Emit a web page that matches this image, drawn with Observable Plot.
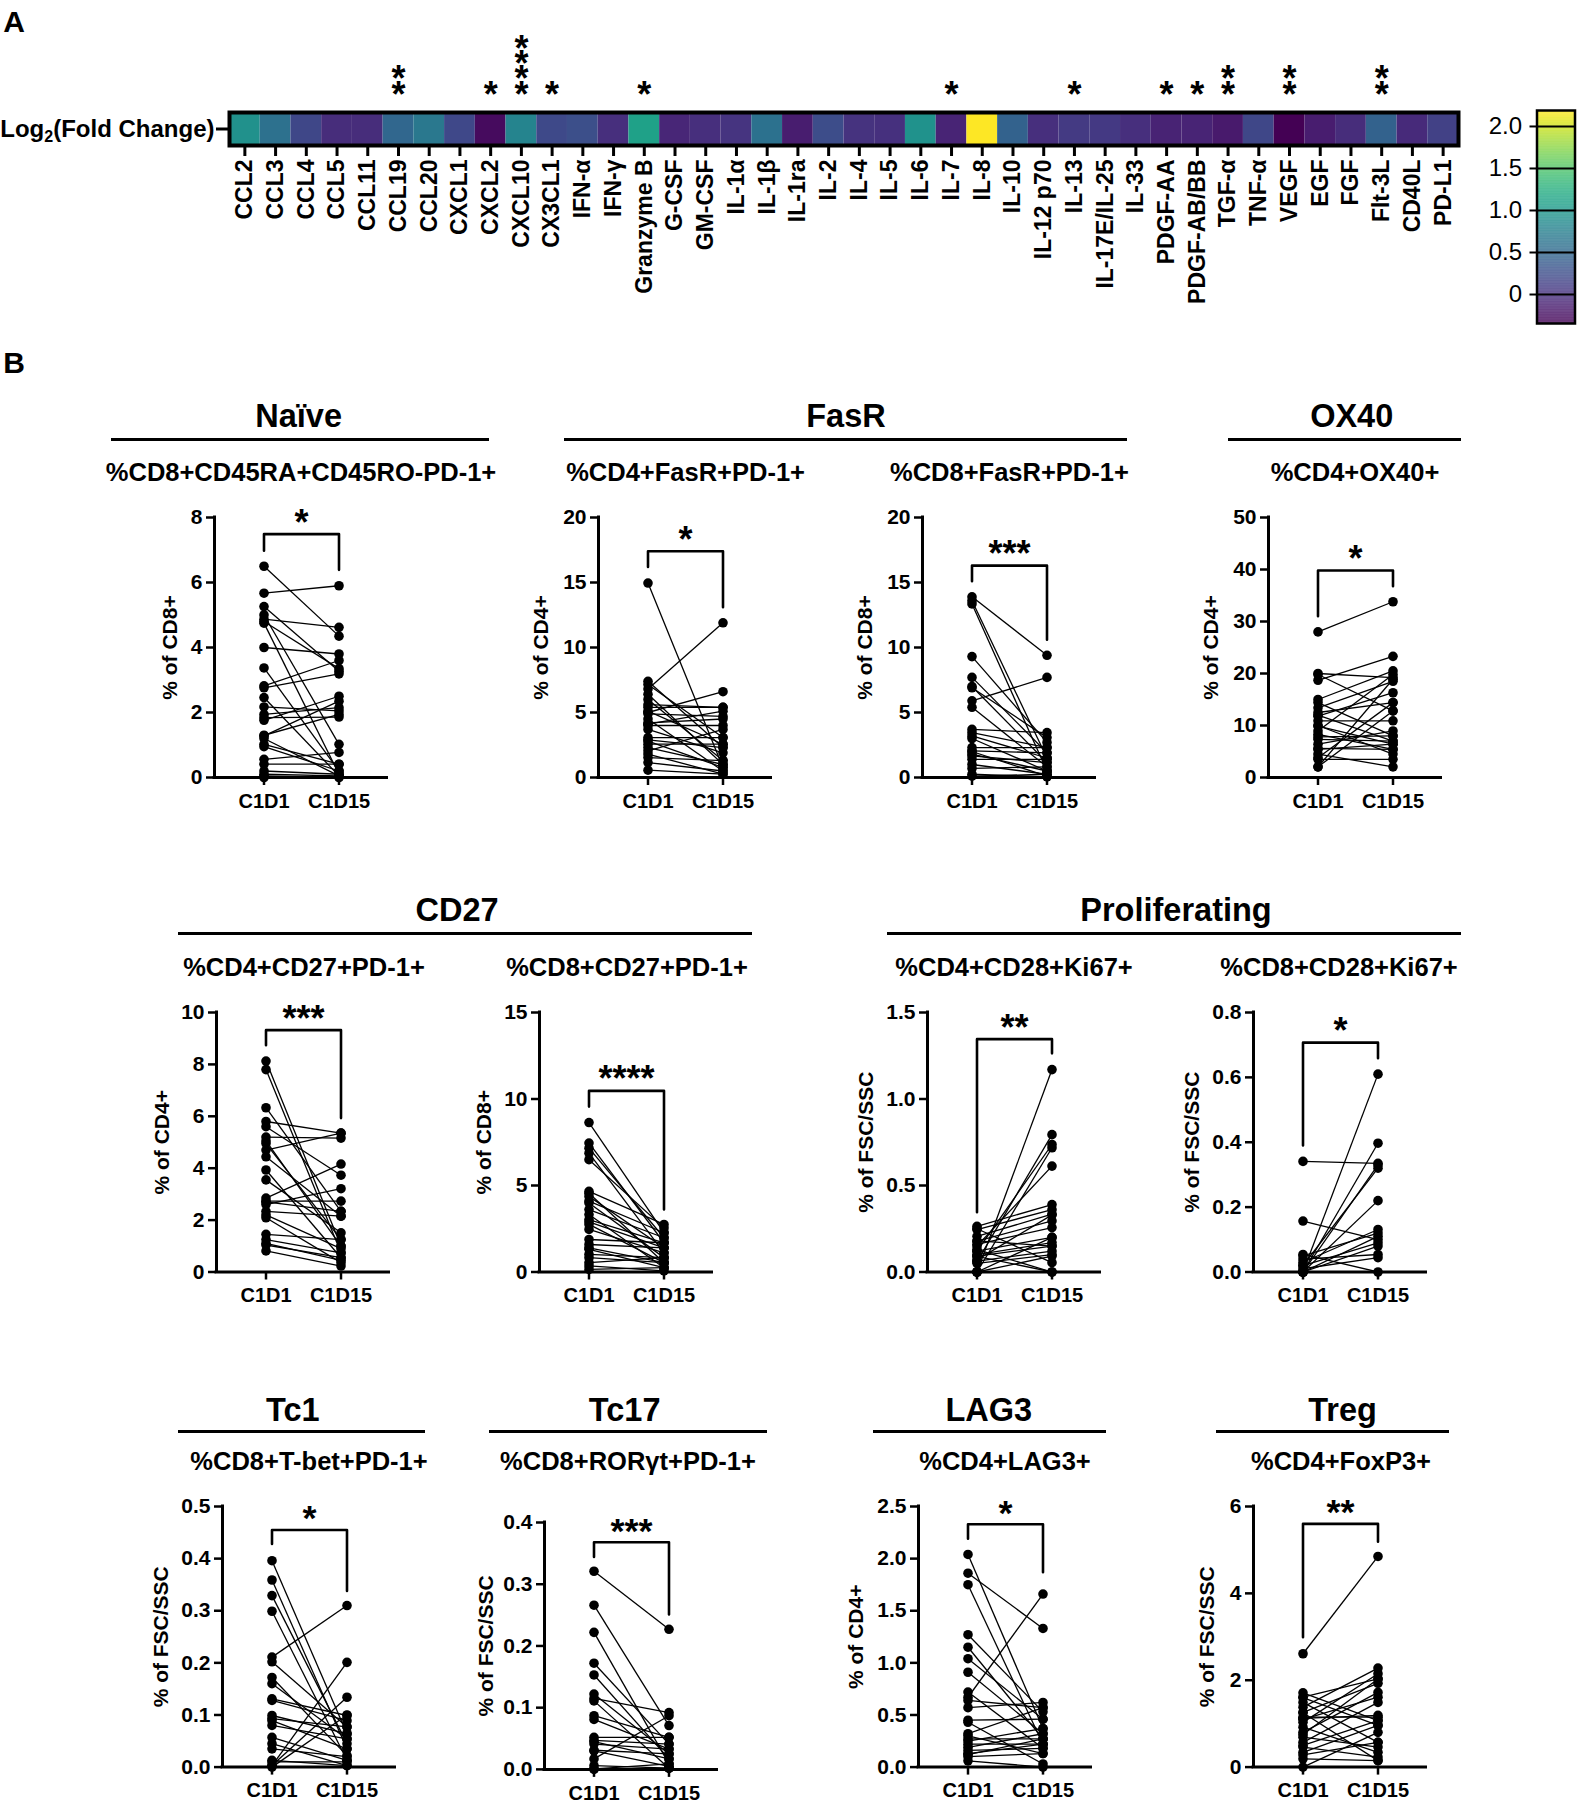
<!DOCTYPE html>
<html><head><meta charset="utf-8">
<script src="https://cdn.jsdelivr.net/npm/d3@7"></script>
<script src="https://cdn.jsdelivr.net/npm/@observablehq/plot@0.6"></script>
<style>
body{margin:0;background:#fff;}
#root{position:relative;width:1579px;height:1800px;overflow:hidden;font-family:"Liberation Sans",Arial,sans-serif;font-weight:bold;color:#000;}
.ctr{position:absolute;transform:translate(-50%,-50%);white-space:nowrap;line-height:1;font-weight:bold;}
.rule{position:absolute;height:3px;background:#000;}
</style></head><body><div id="root"></div>
<script>
// ---------- Panel A data ----------
const cytokines = ["CCL2","CCL3","CCL4","CCL5","CCL11","CCL19","CCL20","CXCL1","CXCL2","CXCL10","CX3CL1","IFN-α","IFN-γ","Granzyme B","G-CSF","GM-CSF","IL-1α","IL-1β","IL-1ra","IL-2","IL-4","IL-5","IL-6","IL-7","IL-8","IL-10","IL-12 p70","IL-13","IL-17E/IL-25","IL-33","PDGF-AA","PDGF-AB/BB","TGF-α","TNF-α","VEGF","EGF","FGF","Flt-3L","CD40L","PD-L1"];
const log2FC = [0.93,0.59,0.19,-0.02,-0.02,0.49,0.67,0.2,-0.27,0.8,0.21,0.26,0.0,1.1,-0.07,0.0,0.035,0.6,-0.14,0.24,0.03,0.01,0.94,-0.09,2.19,0.44,0.0,0.085,0.08,0.0,-0.1,-0.09,-0.17,0.19,-0.34,-0.14,-0.02,0.44,-0.04,0.15];
const cytokineStars = ["","","","","","**","","","*","****","*","","","*","","","","","","","","","","*","","","","*","","","*","*","**","","**","","","**","",""];
const colorDomain = [-0.345, 2.19];
const colorTicks = [0, 0.5, 1.0, 1.5, 2.0];
const rowLabel = "Log2(Fold Change)";

// ---------- Panel B data ----------
const timepoints = ["C1D1", "C1D15"];
const naivePairs = [[6.5,4.35],[5.67,5.9],[5.26,3.27],[5.0,1.02],[4.87,4.62],[4.8,3.35],[4.75,0.1],[4.0,3.8],[3.37,0.2],[2.82,3.6],[2.76,3.19],[2.46,0.05],[2.17,2.05],[1.94,2.15],[1.84,1.86],[1.76,2.5],[1.28,2.35],[1.2,0.05],[1.3,1.94],[1.02,0.41],[0.95,0.2],[0.56,0.77],[0.41,0.41],[0.2,0.1],[0.1,0.05],[0.05,0.0],[0.0,0.02]];
const fasrCD4Pairs = [[14.96,0.77],[7.4,2.3],[7.15,3.07],[6.8,11.9],[6.4,1.0],[6.0,1.3],[5.6,5.4],[5.4,5.4],[5.1,2.56],[5.0,6.6],[4.9,4.7],[4.5,0.5],[4.2,4.5],[4.1,5.1],[4.0,4.0],[3.7,1.9],[3.07,3.07],[2.9,2.3],[2.8,0.77],[2.56,2.56],[2.3,1.0],[2.05,3.7],[1.8,0.26],[1.53,1.3],[1.15,0.5],[0.56,0.26]];
const fasrCD8Pairs = [[13.9,9.4],[13.6,1.5],[13.35,0.5],[9.3,2.7],[7.7,1.9],[7.0,1.15],[6.9,3.07],[5.9,7.7],[5.4,0.82],[3.7,3.45],[3.45,2.3],[3.2,1.5],[3.0,0.5],[2.3,2.3],[2.05,1.9],[2.0,0.1],[1.8,0.5],[1.66,1.15],[1.4,1.4],[1.0,0.25],[0.7,0.82],[0.25,0.05],[0.1,0.25]];
const ox40Pairs = [[28.0,33.8],[20.0,19.2],[19.8,12.8],[18.7,23.3],[15.0,20.5],[14.4,8.0],[13.4,18.5],[12.5,14.4],[12.0,7.0],[11.8,16.3],[10.9,10.9],[10.0,4.5],[9.9,6.4],[8.95,19.8],[8.3,5.4],[7.8,8.0],[7.35,7.0],[6.4,8.95],[5.6,5.4],[5.4,6.4],[4.5,2.05],[3.8,14.4],[3.5,3.5],[2.05,12.8],[2.05,18.9]];
const cd27CD4Pairs = [[8.13,1.0],[7.8,0.74],[6.33,2.34],[5.8,5.35],[5.6,3.73],[5.2,5.16],[5.05,1.0],[4.95,1.25],[4.7,5.35],[4.44,2.15],[3.93,0.55],[3.55,1.51],[2.85,4.16],[2.73,2.73],[2.7,2.34],[2.6,3.21],[2.34,2.15],[2.2,0.9],[2.09,0.36],[1.45,1.25],[1.25,0.74],[1.1,0.45],[1.04,0.55],[0.81,0.23]];
const cd27CD8Pairs = [[8.64,2.27],[7.45,1.69],[7.16,1.98],[6.87,1.11],[6.49,2.55],[4.66,2.75],[4.55,0.54],[4.37,1.4],[4.1,2.27],[3.99,0.83],[3.61,1.98],[3.32,0.25],[3.03,1.69],[2.9,1.4],[2.75,0.54],[2.46,1.11],[1.88,1.69],[1.59,1.4],[1.4,0.54],[1.31,0.25],[1.02,0.83],[0.83,0.54],[0.54,0.83],[0.35,0.06],[0.15,0.25]];
const prolCD4Pairs = [[0.0,1.17],[0.06,0.794],[0.12,0.737],[0.0,0.718],[0.15,0.612],[0.264,0.39],[0.245,0.36],[0.206,0.334],[0.178,0.295],[0.16,0.257],[0.121,0.2],[0.092,0.15],[0.063,0.121],[0.09,0.0],[0.25,0.054],[0.0,0.092],[0.0,0.2],[0.13,0.0],[0.18,0.15],[0.07,0.33],[0.05,0.1],[0.1,0.17]];
const prolCD8Pairs = [[0.341,0.335],[0.157,0.1],[0.0,0.61],[0.0,0.397],[0.02,0.32],[0.0,0.22],[0.03,0.131],[0.05,0.12],[0.0,0.08],[0.04,0.054],[0.01,0.044],[0.054,0.0],[0.0,0.11],[0.0,0.33],[0.02,0.09]];
const tc1Pairs = [[0.396,0.064],[0.359,0.035],[0.329,0.045],[0.299,0.013],[0.211,0.31],[0.202,0.077],[0.172,0.022],[0.16,0.054],[0.131,0.099],[0.128,0.089],[0.099,0.064],[0.093,0.077],[0.089,0.035],[0.08,0.054],[0.057,0.013],[0.045,0.003],[0.035,0.02],[0.013,0.003],[0.003,0.201],[0.003,0.134],[0.0,0.1],[0.01,0.01]];
const tc17Pairs = [[0.321,0.227],[0.266,0.071],[0.222,0.009],[0.172,0.041],[0.153,0.017],[0.122,0.025],[0.115,0.092],[0.111,0.002],[0.087,0.052],[0.081,0.033],[0.052,0.052],[0.047,0.041],[0.045,0.017],[0.041,0.033],[0.031,0.025],[0.03,0.005],[0.017,0.087],[0.006,0.002],[0.001,0.009],[0.0,0.002]];
const lag3Pairs = [[2.04,0.37],[1.86,1.33],[1.75,0.22],[1.27,0.53],[1.15,0.27],[1.04,0.46],[0.91,0.32],[0.72,0.18],[0.67,1.66],[0.64,0.57],[0.57,0.62],[0.45,0.46],[0.43,0.03],[0.32,0.57],[0.3,0.13],[0.27,0.27],[0.25,0.37],[0.22,0.22],[0.19,0.32],[0.16,0.18],[0.13,0.22],[0.12,0.27],[0.1,0.13],[0.06,0.0]];
const tregPairs = [[2.61,4.85],[1.71,1.07],[1.61,2.03],[1.6,0.96],[1.49,0.57],[1.38,2.28],[1.26,1.93],[1.25,0.15],[1.15,1.15],[1.12,1.19],[1.1,1.61],[1.03,2.15],[0.92,0.34],[0.8,1.72],[0.75,2.03],[0.69,0.46],[0.57,1.49],[0.5,1.07],[0.46,0.23],[0.34,0.96],[0.28,0.57],[0.19,0.15],[0.0,0.8]];

const panelSubtitles = ["%CD8+CD45RA+CD45RO-PD-1+","%CD4+FasR+PD-1+","%CD8+FasR+PD-1+","%CD4+OX40+","%CD4+CD27+PD-1+","%CD8+CD27+PD-1+","%CD4+CD28+Ki67+","%CD8+CD28+Ki67+","%CD8+T-bet+PD-1+","%CD8+RORγt+PD-1+","%CD4+LAG3+","%CD4+FoxP3+"];
const panelYLabels = ["% of CD8+","% of CD4+","% of CD8+","% of CD4+","% of CD4+","% of CD8+","% of FSC/SSC","% of FSC/SSC","% of FSC/SSC","% of FSC/SSC","% of CD4+","% of FSC/SSC"];
const panelYMax = [8,20,20,50,10,15,1.5,0.8,0.5,0.4,2.5,6];
const panelYTicks = [[0,2,4,6,8],[0,5,10,15,20],[0,5,10,15,20],[0,10,20,30,40,50],[0,2,4,6,8,10],[0,5,10,15],[0,0.5,1.0,1.5],[0,0.2,0.4,0.6,0.8],[0,0.1,0.2,0.3,0.4,0.5],[0,0.1,0.2,0.3,0.4],[0,0.5,1.0,1.5,2.0,2.5],[0,2,4,6]];
const panelDecimal = [false,false,false,false,false,false,true,true,true,true,true,false];
const panelPairs = [naivePairs,fasrCD4Pairs,fasrCD8Pairs,ox40Pairs,cd27CD4Pairs,cd27CD8Pairs,prolCD4Pairs,prolCD8Pairs,tc1Pairs,tc17Pairs,lag3Pairs,tregPairs];
// bracket: [left leg end, top, right leg end]
const panelBrackets = [[6.98,7.49,6.39],[16.2,17.4,13.1],[15.1,16.3,10.6],[31.0,39.8,36.8],[8.74,9.32,5.93],[9.56,10.47,3.61],[0.346,1.346,1.264],[0.39,0.707,0.659],[0.428,0.455,0.338],[0.344,0.368,0.251],[2.19,2.33,1.87],[2.99,5.6,5.19]];
const panelStars = ["*","*","***","*","***","****","**","*","*","***","*","**"];

const groupTitles = ["Naïve","FasR","OX40","CD27","Proliferating","Tc1","Tc17","LAG3","Treg"];

// ---------- Layout (pixels) ----------
const groupTitlePos = [[298.6,415.7],[846,415.7],[1351.7,415.7],[457,909.5],[1176,909.5],[292.8,1410],[624.7,1410],[988.8,1410],[1342.5,1410]];
const groupLinePos = [[111,489,439],[564,1127,439],[1228,1461,439],[178,752,933],[887,1461,933],[178,425,1431],[489,767,1431],[873,1106,1431],[1216,1449,1431]];
const subtitlePos = [[301,473],[685.6,473],[1009.4,473],[1355,473],[304,968],[627,968],[1014,968],[1339,968],[309,1462],[628,1462],[1005,1462],[1341,1462]];
// [axisX, topTickY, zeroY, yLabelOffset]
const panelLayout = [[213.5,517,777,44],[598,517,777,57],[922,517,777,57],[1268,517,777,57],
  [216,1011.5,1271,54],[538.6,1011.5,1271,55],[926.8,1011.5,1271,61],[1253,1011.5,1271,61],
  [221.6,1505.6,1766.2,61],[544.3,1521.6,1768.5,58],[917.6,1505.6,1766.2,62],[1253,1505.6,1766.2,46]];

const root = document.getElementById("root");
const FONT = '"Liberation Sans", Arial, sans-serif';

function addDiv(cls, text, x, y, size) {
  const d = document.createElement("div");
  d.className = cls; d.textContent = text;
  d.style.left = x + "px"; d.style.top = y + "px"; d.style.fontSize = size + "px";
  root.appendChild(d); return d;
}
function place(node, left, top) {
  node.style.position = "absolute"; node.style.left = left + "px"; node.style.top = top + "px";
  root.appendChild(node);
}

addDiv("ctr", "A", 14, 22, 30);
addDiv("ctr", "B", 14, 363, 30);

// ---------- Heatmap ----------
const hmData = cytokines.map((name, i) => ({name, value: log2FC[i], stars: cytokineStars[i]}));
const heat = Plot.plot({
  width: 1470, height: 315,
  marginLeft: 229, marginRight: 12, marginTop: 112, marginBottom: 170,
  x: {domain: cytokines, padding: 0, round: false, label: null},
  y: {domain: [rowLabel], padding: 0, round: false, label: null},
  color: {type: "linear", scheme: "viridis", domain: colorDomain},
  style: {fontFamily: FONT, fontWeight: "bold", fontSize: "23px", background: "transparent", overflow: "visible"},
  marks: [
    Plot.cell(hmData, {x: "name", y: () => rowLabel, fill: "value", inset: 0}),
    Plot.frame({stroke: "black", strokeWidth: 4}),
    Plot.axisX({tickRotate: -90, tickSize: 11, tickPadding: 3, strokeWidth: 3, fontSize: 23}),
    Plot.axisY({tickSize: 13, tickPadding: 2, strokeWidth: 3, fontSize: 24}),
    Plot.text(hmData.filter(d => d.stars), {x: "name", text: d => d.stars.split("").join("\n"), frameAnchor: "top", lineAnchor: "bottom", lineHeight: 0.42, dy: -6, fontSize: 36})
  ]
});
d3.select(heat).selectAll("text").filter(function(){ return this.textContent === rowLabel; }).each(function(){
  const t = d3.select(this); t.text(null);
  t.append("tspan").text("Log");
  t.append("tspan").attr("dy", 5).attr("font-size", 16).text("2");
  t.append("tspan").attr("dy", -5).text("(Fold Change)");
});
place(heat, 0, 0);

// ---------- Colour bar ----------
const steps = d3.range(colorDomain[0], colorDomain[1], 0.005);
const cbar = Plot.plot({
  width: 109, height: 333,
  marginLeft: 66.5, marginRight: 4.5, marginTop: 110, marginBottom: 10,
  x: {domain: [0, 1], axis: null},
  y: {domain: colorDomain, label: null},
  color: {type: "linear", scheme: "viridis", domain: colorDomain},
  style: {fontFamily: FONT, fontWeight: "normal", fontSize: "24px", background: "transparent", overflow: "visible"},
  marks: [
    Plot.rect(steps, {x1: 0, x2: 1, y1: d => d, y2: d => Math.min(d + 0.006, colorDomain[1]), fill: d => d + 0.0025}),
    Plot.frame({stroke: "black", strokeWidth: 2.5}),
    Plot.axisY({ticks: colorTicks, tickFormat: d => d === 0 ? "0" : d.toFixed(1), tickSize: 7, tickPadding: 8, strokeWidth: 2, fontSize: 24, fontWeight: "normal"}),
    Plot.tickY(colorTicks, {y: d => d, x1: 0.82, x2: 1, strokeWidth: 2})
  ]
});
place(cbar, 1470, 0);

// ---------- Group titles ----------
groupTitles.forEach((t, i) => addDiv("ctr", t, groupTitlePos[i][0], groupTitlePos[i][1], 32.5));
groupLinePos.forEach(([x1, x2, y]) => {
  const d = document.createElement("div"); d.className = "rule";
  d.style.left = x1 + "px"; d.style.width = (x2 - x1) + "px"; d.style.top = (y - 1.5) + "px";
  root.appendChild(d);
});
panelSubtitles.forEach((t, i) => addDiv("ctr", t, subtitlePos[i][0], subtitlePos[i][1], 25.5));

// ---------- Paired panels ----------
const X0 = -49.5 / 75, X1 = 1 + 48 / 75, INNER_W = 172.5;
function pairPanel(i) {
  const [axisX, topY, zeroY, labOff] = panelLayout[i];
  const mL = 110, mR = 14, mT = 20, mB = 45;
  const innerH = zeroY - topY;
  const pairs = panelPairs[i].map(([a, b]) => ({a, b}));
  const pts = panelPairs[i].flatMap(([a, b]) => [{t: timepoints[0], v: a}, {t: timepoints[1], v: b}]);
  const [bl, bt, br] = panelBrackets[i];
  const bracket = [{t: 0, v: bl}, {t: 0, v: bt}, {t: 1, v: bt}, {t: 1, v: br}];
  const fmt = panelDecimal[i] ? d3.format(".1f") : d3.format("d");
  const svg = Plot.plot({
    width: mL + INNER_W + mR, height: mT + innerH + mB,
    marginLeft: mL, marginRight: mR, marginTop: mT, marginBottom: mB,
    x: {type: "linear", domain: [X0, X1], label: null},
    y: {domain: [0, panelYMax[i]], label: null},
    style: {fontFamily: FONT, fontWeight: "bold", fontSize: "20px", background: "transparent", overflow: "visible"},
    marks: [
      Plot.link(pairs, {x1: () => 0, x2: () => 1, y1: "a", y2: "b", stroke: "black", strokeWidth: 1.3}),
      Plot.dot(pts, {x: d => timepoints.indexOf(d.t), y: "v", r: 4.8, fill: "black", stroke: "none"}),
      Plot.line(bracket, {x: "t", y: "v", stroke: "black", strokeWidth: 2.6}),
      Plot.text([panelStars[i]], {x: () => 0.5, y: () => bt, dy: -11, fontSize: 36, text: d => d}),
      Plot.ruleY([0], {stroke: "black", strokeWidth: 3, strokeLinecap: "square"}),
      Plot.ruleX([X0], {stroke: "black", strokeWidth: 3, strokeLinecap: "square"}),
      Plot.axisX({ticks: [0, 1], tickFormat: d => timepoints[d], tickSize: 8, tickPadding: 8, strokeWidth: 2.5, fontSize: 20}),
      Plot.axisY({ticks: panelYTicks[i], tickFormat: fmt, tickSize: 8, tickPadding: 4, strokeWidth: 2.5, fontSize: 21}),
      Plot.text([panelYLabels[i]], {frameAnchor: "left", textAnchor: "middle", rotate: -90, dx: -labOff, fontSize: 21, text: d => d})
    ]
  });
  place(svg, axisX - mL, topY - mT);
}
panelPairs.forEach((_, i) => pairPanel(i));
</script></body></html>
